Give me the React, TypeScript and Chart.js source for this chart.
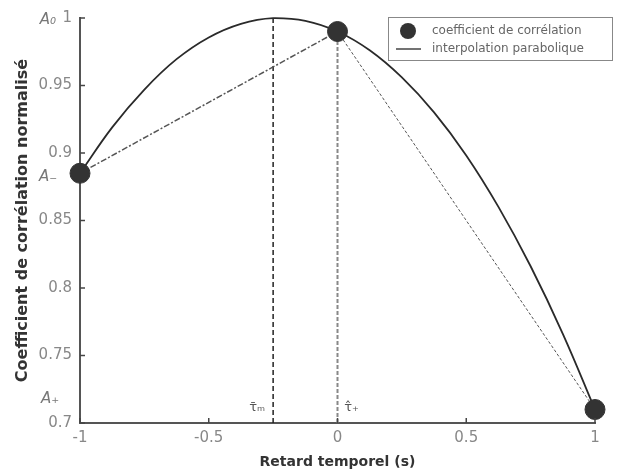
import React, { useEffect, useRef } from "react";
import { Chart, registerables } from "chart.js";

Chart.register(...registerables);

const lagX = [-1, 0, 1];
const corrY = [0.885, 0.99, 0.71];

const parabX = [-1, -0.875, -0.75, -0.625, -0.5, -0.375, -0.25, -0.125, 0, 0.125, 0.25, 0.375, 0.5, 0.625, 0.75, 0.875, 1];
const parabY = [0.885, 0.919, 0.947, 0.9695, 0.9856, 0.9957, 0.9999, 0.9979, 0.99, 0.9761, 0.956, 0.9301, 0.8982, 0.8601, 0.8161, 0.7661, 0.71];

const peakX = -0.25;
const yTicks = [0.7, 0.75, 0.8, 0.85, 0.9, 0.95, 1];
const xTicks = [-1, -0.5, 0, 0.5, 1];

const legendLabels = ["coefficient de corrélation", "interpolation parabolique"];
const ampLabels = ["A₀", "A₋", "A₊"];
const tauLabels = ["τ̄ₘ", "τ̂₊"];

const FONT = "'DejaVu Sans', 'Liberation Sans', Arial, sans-serif";

const decorPlugin = {
  id: "decor",
  afterDraw(chart: any) {
    const { ctx, chartArea, scales } = chart;
    const xs = scales.x;
    const ys = scales.y;
    ctx.save();
    // inward ticks
    ctx.strokeStyle = "#444";
    ctx.lineWidth = 1.5;
    yTicks.forEach((v) => {
      const py = ys.getPixelForValue(v);
      ctx.beginPath();
      ctx.moveTo(chartArea.left, py);
      ctx.lineTo(chartArea.left + 5, py);
      ctx.stroke();
    });
    xTicks.forEach((v) => {
      const px = xs.getPixelForValue(v);
      ctx.beginPath();
      ctx.moveTo(px, chartArea.bottom);
      ctx.lineTo(px, chartArea.bottom - 5);
      ctx.stroke();
    });

    // amplitude labels
    ctx.fillStyle = "#777";
    ctx.font = `italic 15px ${FONT}`;
    ctx.textAlign = "center";
    ctx.textBaseline = "middle";
    ctx.fillText(ampLabels[0], 48, ys.getPixelForValue(1) + 2);
    ctx.fillText(ampLabels[1], 48, ys.getPixelForValue(corrY[0]) + 4);
    ctx.fillText(ampLabels[2], 50, ys.getPixelForValue(corrY[2]) - 10);

    // tau labels
    ctx.font = `13px ${FONT}`;
    ctx.fillStyle = "#555";
    ctx.fillText(tauLabels[0], xs.getPixelForValue(peakX) - 16, chartArea.bottom - 15);
    ctx.fillText(tauLabels[1], xs.getPixelForValue(0) + 14, chartArea.bottom - 15);

    // legend
    const bx = 388, by = 17, bw = 224, bh = 43;
    ctx.fillStyle = "#fff";
    ctx.fillRect(bx, by, bw, bh);
    ctx.strokeStyle = "#888";
    ctx.lineWidth = 1;
    ctx.strokeRect(bx + 0.5, by + 0.5, bw, bh);
    ctx.fillStyle = "#333";
    ctx.beginPath();
    ctx.arc(408, 31, 8, 0, Math.PI * 2);
    ctx.fill();
    ctx.strokeStyle = "#444";
    ctx.lineWidth = 1.5;
    ctx.beginPath();
    ctx.moveTo(396, 49);
    ctx.lineTo(421, 49);
    ctx.stroke();
    ctx.fillStyle = "#666";
    ctx.font = `12px ${FONT}`;
    ctx.textAlign = "left";
    ctx.fillText(legendLabels[0], 432, 31);
    ctx.fillText(legendLabels[1], 432, 49);
    ctx.restore();
  },
};

export default function App() {
  const ref = useRef<HTMLCanvasElement | null>(null);
  useEffect(() => {
    document.body.style.margin = "0";
    const canvas = ref.current;
    if (!canvas) return;
    const pts = (xa: number[], ya: number[]) => xa.map((x, i) => ({ x, y: ya[i] }));
    const chart = new Chart(canvas, {
      type: "scatter",
      data: {
        datasets: [
          {
            label: legendLabels[0],
            data: pts(lagX, corrY),
            backgroundColor: "#333",
            borderColor: "#333",
            pointRadius: 10,
            showLine: false,
            clip: false,
          } as any,
          {
            label: legendLabels[1],
            data: pts(parabX, parabY),
            borderColor: "#2a2a2a",
            borderWidth: 1.8,
            pointRadius: 0,
            showLine: true,
            tension: 0.4,
            clip: false,
          },
          {
            label: "left",
            data: pts([lagX[0], lagX[1]], [corrY[0], corrY[1]]),
            borderColor: "#555",
            borderWidth: 1.5,
            borderDash: [6, 2, 2, 2],
            pointRadius: 0,
            showLine: true,
          },
          {
            label: "right",
            data: pts([lagX[1], lagX[2]], [corrY[1], corrY[2]]),
            borderColor: "#555",
            borderWidth: 1,
            borderDash: [3, 2],
            pointRadius: 0,
            showLine: true,
          },
          {
            label: "peak",
            data: pts([peakX, peakX], [0.7, 1]),
            borderColor: "#222",
            borderWidth: 1.5,
            borderDash: [5, 3],
            pointRadius: 0,
            showLine: true,
          },
          {
            label: "zero",
            data: pts([0, 0], [0.7, corrY[1]]),
            borderColor: "#888",
            borderWidth: 2,
            borderDash: [4, 2],
            pointRadius: 0,
            showLine: true,
          },
        ],
      },
      options: {
        animation: false,
        responsive: true,
        maintainAspectRatio: false,
        layout: { padding: { top: 18, right: 22, left: 0, bottom: 0 } },
        plugins: { legend: { display: false }, tooltip: { enabled: false } },
        scales: {
          x: {
            type: "linear",
            min: -1,
            max: 1,
            afterFit: (s: any) => {
              s.height = 51;
            },
            grid: { display: false, drawTicks: false },
            border: { display: true, color: "#555", width: 2 },
            afterBuildTicks: (s: any) => {
              s.ticks = xTicks.map((v) => ({ value: v }));
            },
            ticks: {
              padding: 6,
              color: "#888",
              font: { family: FONT, size: 15 },
              callback: (v: any) => String(Number(Number(v).toFixed(2))),
            },
            title: {
              display: true,
              text: "Retard temporel (s)",
              color: "#333",
              font: { family: FONT, size: 14, weight: "bold" },
              padding: { bottom: 3 },
            },
          },
          y: {
            type: "linear",
            min: 0.7,
            max: 1,
            afterFit: (s: any) => {
              s.width = 80;
            },
            grid: { display: false, drawTicks: false },
            border: { display: true, color: "#555", width: 2 },
            afterBuildTicks: (s: any) => {
              s.ticks = yTicks.map((v) => ({ value: v }));
            },
            ticks: {
              padding: 8,
              color: "#888",
              font: { family: FONT, size: 15 },
              callback: (v: any) => String(Number(Number(v).toFixed(2))),
            },
            title: {
              display: true,
              text: "Coefficient de corrélation normalisé",
              color: "#333",
              font: { family: FONT, size: 16, weight: "bold" },
              padding: { top: 13 },
            },
          },
        },
      },
      plugins: [decorPlugin],
    });
    return () => chart.destroy();
  }, []);
  return (
    <div style={{ position: "relative", width: 617, height: 474 }}>
      <canvas ref={ref} />
    </div>
  );
}
